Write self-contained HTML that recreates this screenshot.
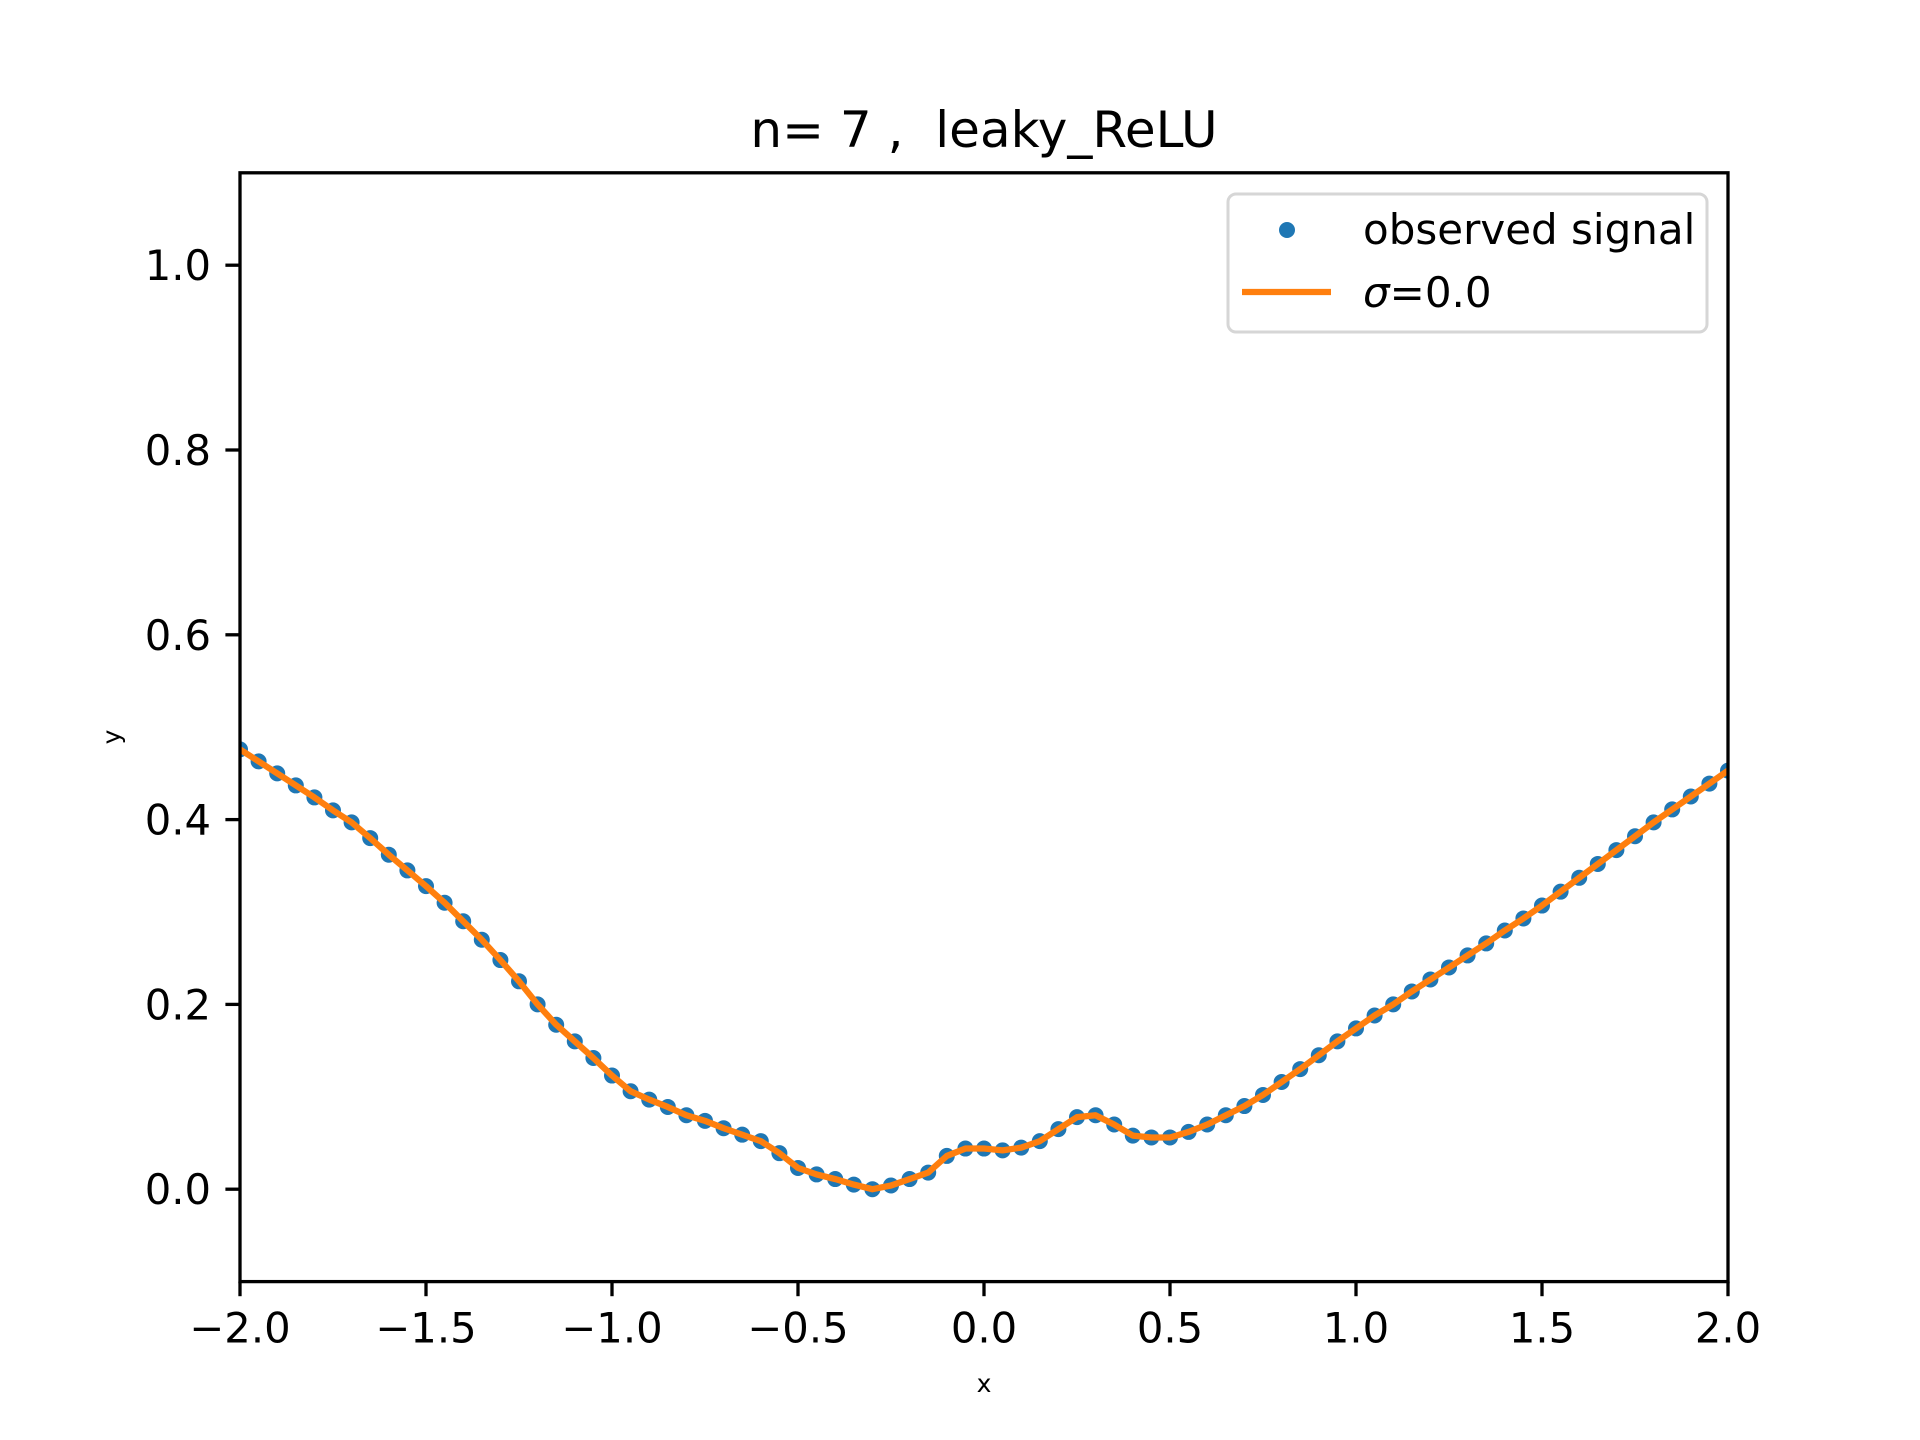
<!DOCTYPE html>
<html><head><meta charset="utf-8"><style>
html,body{margin:0;padding:0;background:#fff;}
svg{display:block;font-family:"DejaVu Sans","Liberation Sans",sans-serif;}
</style></head><body>
<svg id="chart" width="1920" height="1440" viewBox="0 0 1920 1440" xmlns="http://www.w3.org/2000/svg">
<rect width="1920" height="1440" fill="#fff"/>
<text x="984" y="147" font-size="50" text-anchor="middle" style="white-space:pre">n= 7 ,&#160;&#160;leaky_ReLU</text>
<g id="plot"></g>
<g id="axes"></g>
<text x="984" y="1392" font-size="25" text-anchor="middle">x</text>
<text x="120" y="737" font-size="25" text-anchor="middle" transform="rotate(-90 120 737)">y</text>
<g>
<rect x="1228" y="194" width="479" height="138" rx="8" fill="#fff" fill-opacity="0.8" stroke="#d6d6d6" stroke-width="3"/>
<circle cx="1287" cy="230" r="8" fill="#1f77b4"/>
<text x="1363" y="244" font-size="42">observed signal</text>
<line x1="1242" y1="292" x2="1331" y2="292" stroke="#ff7f0e" stroke-width="6.25"/>
<text x="1363" y="307" font-size="42"><tspan font-style="italic">σ</tspan>=0.0</text>
</g>
</svg>
<script>
const xValues = [-2,-1.95,-1.9,-1.85,-1.8,-1.75,-1.7,-1.65,-1.6,-1.55,-1.5,-1.45,-1.4,-1.35,-1.3,-1.25,-1.2,-1.15,-1.1,-1.05,-1,-0.95,-0.9,-0.85,-0.8,-0.75,-0.7,-0.65,-0.6,-0.55,-0.5,-0.45,-0.4,-0.35,-0.3,-0.25,-0.2,-0.15,-0.1,-0.05,0,0.05,0.1,0.15,0.2,0.25,0.3,0.35,0.4,0.45,0.5,0.55,0.6,0.65,0.7,0.75,0.8,0.85,0.9,0.95,1,1.05,1.1,1.15,1.2,1.25,1.3,1.35,1.4,1.45,1.5,1.55,1.6,1.65,1.7,1.75,1.8,1.85,1.9,1.95,2];
const observedValues = [0.476,0.463,0.45,0.437,0.424,0.41,0.397,0.38,0.362,0.345,0.328,0.31,0.29,0.27,0.248,0.225,0.2,0.178,0.16,0.142,0.123,0.106,0.097,0.089,0.08,0.074,0.066,0.059,0.052,0.039,0.023,0.016,0.011,0.005,0.0,0.004,0.011,0.018,0.036,0.044,0.044,0.042,0.045,0.052,0.065,0.078,0.08,0.07,0.058,0.056,0.056,0.062,0.07,0.08,0.09,0.102,0.116,0.13,0.145,0.16,0.174,0.188,0.2,0.214,0.227,0.24,0.253,0.266,0.28,0.293,0.307,0.322,0.337,0.352,0.367,0.382,0.397,0.411,0.425,0.439,0.453];
const fitValues = observedValues.slice();
const xTicks = [-2,-1.5,-1,-0.5,0,0.5,1,1.5,2];
const xTickLabels = ["−2.0","−1.5","−1.0","−0.5","0.0","0.5","1.0","1.5","2.0"];
const yTicks = [0,0.2,0.4,0.6,0.8,1.0];
const yTickLabels = ["0.0","0.2","0.4","0.6","0.8","1.0"];

const L=240,R=1728,T=172.8,B=1281.6;
const xMin=-2,xMax=2,yMin=-0.1,yMax=1.1;
const sx=v=>L+(v-xMin)/(xMax-xMin)*(R-L);
const sy=v=>B-(v-yMin)/(yMax-yMin)*(B-T);
const NS="http://www.w3.org/2000/svg";
const plot=document.getElementById('plot');
const axes=document.getElementById('axes');
function mk(tag,attrs,parent){const e=document.createElementNS(NS,tag);for(const k in attrs)e.setAttribute(k,attrs[k]);parent.appendChild(e);return e;}

const clip=mk('clipPath',{id:'clipA'},plot);
mk('rect',{x:L,y:T,width:R-L,height:B-T},clip);
const g=mk('g',{'clip-path':'url(#clipA)'},plot);
xValues.forEach((x,i)=>{
  const c=mk('circle',{cx:sx(x),cy:sy(observedValues[i]),r:8,fill:'#1f77b4'},g);
  
  
});
const line=mk('polyline',{points:xValues.map((x,i)=>sx(x)+','+sy(fitValues[i])).join(' '),fill:'none',stroke:'#ff7f0e','stroke-width':6.25,'stroke-linejoin':'round'},g);



const frame=mk('rect',{x:L,y:T,width:R-L,height:B-T,fill:'none',stroke:'#000','stroke-width':3.3},axes);


xTicks.forEach((v,i)=>{
  const x=sx(v);
  const t=mk('line',{x1:x,y1:B,x2:x,y2:B+14.6,stroke:'#000','stroke-width':3.3},axes);
  
  
  const lb=mk('text',{x:x,y:B+29+32,'font-size':41.7,'text-anchor':'middle'},axes);
  lb.textContent=xTickLabels[i];
  
  
});
yTicks.forEach((v,i)=>{
  const y=sy(v);
  const t=mk('line',{x1:L,y1:y,x2:L-14.6,y2:y,stroke:'#000','stroke-width':3.3},axes);
  
  
  const lb=mk('text',{x:L-29,y:y+15,'font-size':41.7,'text-anchor':'end'},axes);
  lb.textContent=yTickLabels[i];
  
  
});
</script>
</body></html>
